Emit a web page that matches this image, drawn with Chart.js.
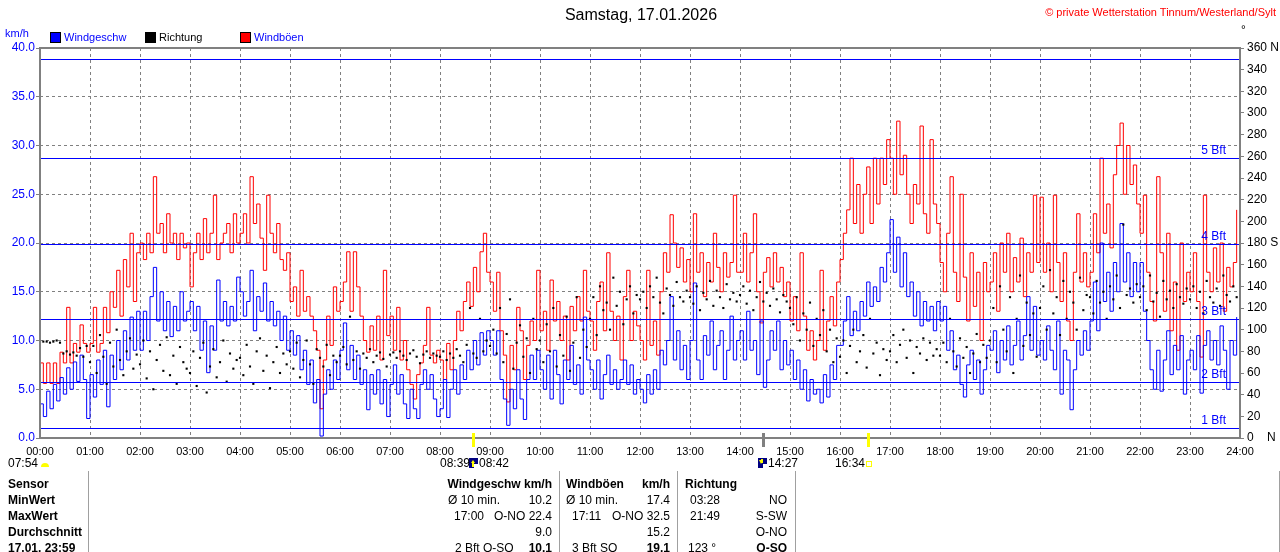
<!DOCTYPE html>
<html lang="de">
<head>
<meta charset="utf-8">
<title>Wind Samstag, 17.01.2026</title>
<script src="https://cdn.jsdelivr.net/npm/chart.js@4.4.1/dist/chart.umd.min.js"></script>
<style>
  html, body { margin: 0; padding: 0; background: #fff; }
  #wrap { position: relative; width: 1280px; height: 552px; overflow: hidden;
          font-family: "Liberation Sans", Arial, sans-serif; }
  #chart { position: absolute; left: 0; top: 0; }
  .t { position: absolute; white-space: nowrap; font-size: 12px; line-height: 14px; color: #000; }
  .s { font-size: 11px; }
  .b { font-weight: bold; }
  .blue { color: #0000ff; }
  .sq { position: absolute; width: 9px; height: 9px; border: 1px solid #000; }
</style>
</head>
<body>
<div id="wrap">
  <canvas id="chart" width="1280" height="552"></canvas>

  <div class="t" style="left:0;width:1282px;text-align:center;top:6px;font-size:16px;line-height:18px">Samstag, 17.01.2026</div>
  <div class="t" style="right:4px;top:5px;font-size:11px;color:#ff0000">© private Wetterstation Tinnum/Westerland/Sylt</div>
  <div class="t s blue" style="left:5px;top:26px">km/h</div>
  <div class="t" style="left:1241px;top:23px">°</div>

  <div class="sq" style="left:50px;top:32px;background:#0000ff"></div>
  <div class="t s blue" style="left:64px;top:30px">Windgeschw</div>
  <div class="sq" style="left:145px;top:32px;background:#000"></div>
  <div class="t s" style="left:159px;top:30px">Richtung</div>
  <div class="sq" style="left:240px;top:32px;background:#ff0000"></div>
  <div class="t s blue" style="left:254px;top:30px">Windböen</div>

  <div class="t" style="left:8px;top:456px">07:54</div>
  <div class="t" style="left:440px;top:456px">08:39</div>
  <div class="t" style="left:479px;top:456px">08:42</div>
  <div class="t" style="left:768px;top:456px">14:27</div>
  <div class="t" style="left:835px;top:456px">16:34</div>

  <!-- Tabelle -->
  <div class="t b" style="left:8px;top:477px">Sensor</div>
  <div class="t b" style="left:8px;top:493px">MinWert</div>
  <div class="t b" style="left:8px;top:509px">MaxWert</div>
  <div class="t b" style="left:8px;top:525px">Durchschnitt</div>
  <div class="t b" style="left:8px;top:541px">17.01. 23:59</div>

  <div class="t b" style="right:728px;top:477px">Windgeschw km/h</div>
  <div class="t" style="left:448px;top:493px">Ø 10 min.</div>
  <div class="t" style="right:728px;top:493px">10.2</div>
  <div class="t" style="left:454px;top:509px">17:00</div>
  <div class="t" style="right:728px;top:509px">O-NO 22.4</div>
  <div class="t" style="right:728px;top:525px">9.0</div>
  <div class="t" style="left:455px;top:541px">2 Bft O-SO</div>
  <div class="t b" style="right:728px;top:541px">10.1</div>

  <div class="t b" style="left:566px;top:477px">Windböen</div>
  <div class="t b" style="right:610px;top:477px">km/h</div>
  <div class="t" style="left:566px;top:493px">Ø 10 min.</div>
  <div class="t" style="right:610px;top:493px">17.4</div>
  <div class="t" style="left:572px;top:509px">17:11</div>
  <div class="t" style="right:610px;top:509px">O-NO 32.5</div>
  <div class="t" style="right:610px;top:525px">15.2</div>
  <div class="t" style="left:572px;top:541px">3 Bft SO</div>
  <div class="t b" style="right:610px;top:541px">19.1</div>

  <div class="t b" style="left:685px;top:477px">Richtung</div>
  <div class="t" style="left:690px;top:493px">03:28</div>
  <div class="t" style="right:493px;top:493px">NO</div>
  <div class="t" style="left:690px;top:509px">21:49</div>
  <div class="t" style="right:493px;top:509px">S-SW</div>
  <div class="t" style="right:493px;top:525px">O-NO</div>
  <div class="t" style="left:688px;top:541px">123 °</div>
  <div class="t b" style="right:493px;top:541px">O-SO</div>
</div>

<script>
// one value every 4 minutes, 15 per hour
const stepMinutes = 4;

const hourLabels = ['00:00', '01:00', '02:00', '03:00', '04:00', '05:00', '06:00', '07:00', '08:00',
    '09:00', '10:00', '11:00', '12:00', '13:00', '14:00', '15:00', '16:00', '17:00', '18:00',
    '19:00', '20:00', '21:00', '22:00', '23:00', '24:00'];

// Windgeschwindigkeit km/h
const windSpeed = [
    3.5, 2.2, 4.8, 3.0, 5.5, 3.8, 6.2, 4.5, 7.2, 5.0, 7.8, 5.8, 8.5, 6.0, 2.0,          // 00
    6.5, 4.2, 8.0, 5.5, 9.0, 3.2, 8.5, 6.0, 10.0, 7.0, 11.0, 8.0, 12.4, 9.0, 13.0,     // 01
    9.0, 13.0, 10.0, 14.5, 17.5, 12.0, 15.0, 11.0, 14.0, 10.4, 13.5, 11.0, 15.0, 12.0, 13.0, // 02
    14.0, 11.0, 13.5, 9.0, 12.0, 6.7, 11.5, 9.0, 16.2, 12.0, 14.0, 11.5, 13.5, 12.0, 16.5,  // 03
    15.0, 12.5, 14.0, 17.2, 11.0, 14.5, 13.0, 15.9, 12.0, 14.0, 11.5, 13.0, 10.0, 12.5, 9.0, // 04
    11.0, 8.5, 10.5, 7.0, 9.0, 5.5, 8.0, 3.6, 6.0, 0.2, 4.5, 7.0, 5.0, 8.0, 6.0,       // 05
    9.0, 11.8, 7.0, 9.5, 6.0, 8.5, 5.5, 7.0, 2.9, 6.5, 4.5, 7.0, 3.5, 6.0, 2.2,        // 06
    5.5, 7.5, 4.5, 6.5, 3.5, 2.0, 5.0, 3.0, 2.0, 5.5, 7.0, 5.0, 6.5, 4.0, 2.2,         // 07
    3.0, 6.0, 2.1, 5.0, 7.0, 4.5, 7.5, 6.0, 9.0, 7.0, 10.0, 7.5, 10.8, 8.5, 11.0,      // 08
    10.0, 8.5, 11.0, 6.0, 4.0, 1.3, 5.0, 3.0, 7.0, 4.0, 1.9, 6.0, 8.5, 6.0, 9.0,       // 09
    7.0, 5.0, 8.5, 4.0, 9.0, 6.5, 3.5, 8.0, 6.0, 9.5, 5.5, 7.5, 4.5, 12.4, 8.0,        // 10
    7.0, 5.0, 8.0, 4.0, 6.5, 8.5, 5.5, 7.0, 5.0, 6.0, 8.0, 5.5, 7.5, 4.5, 6.0,         // 11
    5.0, 3.6, 6.5, 4.5, 7.0, 5.0, 9.0, 7.5, 10.0, 14.5, 8.0, 11.0, 7.0, 9.5, 6.0,      // 12
    10.0, 15.9, 8.0, 6.0, 10.5, 8.5, 12.0, 7.0, 9.5, 11.0, 6.0, 9.0, 12.5, 8.0, 10.0,  // 13
    11.0, 8.0, 13.0, 9.0, 10.0, 6.5, 12.0, 5.2, 8.0, 11.0, 9.0, 12.0, 7.0, 10.0, 7.5,  // 14
    9.0, 6.0, 8.0, 5.0, 7.0, 3.8, 6.0, 4.5, 5.0, 3.6, 6.5, 4.2, 7.5, 6.0, 9.5,         // 15
    9.5, 12.0, 14.5, 10.5, 13.0, 11.0, 14.0, 12.5, 16.0, 13.5, 15.5, 14.0, 17.5, 16.0, 19.0, // 16
    22.4, 17.0, 20.6, 15.5, 19.0, 14.5, 16.0, 12.5, 15.0, 11.5, 14.0, 12.0, 13.5, 11.0, 14.0, // 17
    12.0, 13.5, 9.0, 11.0, 7.0, 8.5, 5.5, 4.2, 7.5, 9.0, 6.0, 8.0, 4.5, 7.0, 9.5,      // 18
    9.0, 11.0, 6.7, 10.0, 8.0, 11.5, 7.5, 9.5, 12.0, 8.0, 10.5, 14.5, 9.0, 13.5, 8.5,  // 19
    10.0, 8.0, 11.5, 9.0, 7.0, 12.0, 4.5, 9.0, 8.0, 2.9, 7.0, 10.0, 8.5, 11.0, 9.0,    // 20
    12.0, 16.0, 11.0, 20.0, 14.0, 17.0, 13.0, 18.0, 15.0, 22.0, 16.0, 19.0, 14.5, 18.0, 15.0, // 21
    18.0, 13.0, 10.0, 7.0, 5.0, 9.0, 4.8, 8.0, 11.0, 6.5, 9.5, 7.0, 10.5, 4.5, 8.0,    // 22
    9.0, 7.0, 10.5, 4.6, 9.5, 11.0, 8.0, 10.0, 7.5, 11.5, 9.0, 5.0, 10.0, 8.5, 12.4    // 23
];

// Windböen km/h
const windGust = [
    7.7, 5.6, 7.7, 5.6, 7.7, 5.6, 8.8, 7.7, 13.4, 7.7, 9.7, 8.8, 11.6, 9.7, 8.8,       // 00
    9.7, 13.4, 8.8, 9.7, 13.4, 10.8, 15.0, 13.4, 17.2, 12.5, 18.3, 15.5, 21.0, 14.0, 19.0, // 01
    20.0, 18.3, 21.0, 19.0, 26.8, 21.0, 22.0, 19.0, 23.0, 20.0, 21.0, 18.3, 21.0, 19.5, 20.0, // 02
    15.5, 19.0, 21.0, 18.3, 22.5, 19.0, 21.0, 24.9, 18.3, 20.0, 21.0, 22.0, 19.0, 23.0, 20.0, // 03
    21.0, 23.0, 20.0, 26.8, 22.0, 24.0, 20.5, 17.2, 24.9, 21.0, 19.0, 22.0, 18.3, 17.2, 19.0, // 04
    14.0, 15.5, 12.5, 17.2, 13.0, 14.5, 12.5, 11.0, 9.0, 3.0, 8.0, 12.5, 9.5, 15.5, 13.0,   // 05
    14.0, 16.0, 19.1, 13.0, 19.1, 15.5, 12.5, 10.0, 8.8, 11.5, 9.0, 12.5, 8.0, 17.2, 10.5,  // 06
    12.5, 9.0, 13.4, 8.0, 10.0, 7.0, 5.5, 4.0, 6.5, 7.7, 9.5, 13.4, 8.5, 7.7, 9.0,          // 07
    8.0, 6.0, 9.7, 7.0, 10.0, 13.0, 11.0, 14.0, 16.0, 13.5, 17.5, 15.0, 19.1, 21.0, 17.0,   // 08
    16.0, 13.0, 17.0, 11.0, 8.5, 3.7, 9.5, 7.0, 13.4, 11.0, 6.0, 9.5, 12.0, 10.0, 17.2,     // 09
    11.0, 13.0, 9.0, 16.2, 12.0, 14.0, 10.0, 12.5, 8.0, 13.5, 11.0, 14.5, 12.0, 17.2, 13.0, // 10
    12.0, 9.0, 14.0, 16.0, 11.0, 19.0, 13.0, 10.0, 12.5, 8.0, 14.5, 17.2, 10.0, 13.0, 11.5, // 11
    10.0, 8.0, 17.2, 9.5, 12.0, 8.5, 15.0, 19.0, 17.0, 22.9, 20.0, 17.5, 19.5, 16.0, 18.3,  // 12
    15.0, 23.0, 17.0, 19.0, 14.5, 18.0, 16.0, 21.0, 17.5, 15.0, 19.0, 16.5, 18.0, 24.9, 17.0, // 13
    17.0, 21.0, 16.0, 19.0, 23.0, 15.0, 11.8, 17.0, 18.5, 15.5, 19.0, 16.0, 17.5, 14.5, 16.0, // 14
    12.0, 14.5, 11.0, 19.0, 12.5, 9.0, 11.0, 8.0, 10.0, 17.2, 9.0, 12.0, 14.5, 11.5, 16.0,  // 15
    18.3, 21.0, 23.4, 28.7, 22.0, 26.0, 21.0, 25.0, 27.8, 22.0, 28.7, 24.0, 28.7, 26.0, 30.6, // 16
    28.7, 25.0, 32.5, 27.0, 29.0, 25.0, 22.0, 26.0, 24.0, 32.0, 23.0, 21.0, 30.6, 24.0, 22.0, // 17
    18.0, 15.0, 21.0, 26.8, 17.0, 14.0, 25.0, 16.5, 12.0, 19.0, 13.5, 17.0, 10.0, 18.0, 15.0, // 18
    16.0, 19.0, 13.0, 20.0, 17.0, 21.0, 15.0, 18.5, 16.0, 20.5, 14.5, 19.0, 17.0, 24.9, 18.0, // 19
    24.7, 17.0, 20.0, 15.0, 24.9, 18.0, 14.0, 19.0, 12.0, 10.0, 17.0, 23.0, 16.0, 19.0, 15.5, // 20
    17.0, 23.0, 19.0, 28.7, 21.0, 24.0, 19.5, 27.0, 30.0, 32.3, 25.0, 30.0, 26.0, 28.0, 24.0, // 21
    21.0, 24.9, 17.0, 14.0, 12.0, 26.8, 19.0, 13.0, 21.0, 11.0, 16.0, 9.0, 20.0, 14.0, 17.0, // 22
    15.0, 19.0, 14.0, 8.3, 24.9, 17.0, 15.0, 19.5, 16.0, 20.0, 13.0, 17.5, 15.5, 18.0, 23.4  // 23
];

// Windrichtung Grad
const windDir = [
    89, 89, 89, 88, 89, 90, 88, 78, 80, 77, 79, 76, 83, 75, 85,           // 00
    70, 85, 60, 95, 75, 50, 88, 66, 100, 72, 58, 80, 92, 64, 77,          // 01
    68, 90, 55, 80, 45, 72, 86, 62, 93, 58, 76, 50, 84, 70, 64,           // 02
    60, 80, 48, 74, 88, 42, 66, 82, 56, 70, 90, 52, 78, 64, 72,           // 03
    74, 58, 86, 66, 50, 80, 92, 62, 76, 46, 70, 84, 60, 78, 68,           // 04
    80, 64, 88, 56, 72, 90, 68, 50, 82, 74, 66, 86, 58, 76, 70,           // 05
    76, 84, 68, 112, 72, 80, 64, 78, 74, 82, 70, 76, 79, 73, 66,          // 06
    77, 79, 74, 80, 76, 72, 78, 81, 75, 69, 77, 80, 74, 78, 76,           // 07
    75, 80, 72, 78, 74, 82, 76, 70, 86, 120, 78, 74, 110, 80, 90,         // 08
    85, 100, 78, 120, 70, 96, 128, 64, 88, 104, 75, 92, 60, 110, 82,      // 09
    90, 70, 105, 80, 120, 66, 95, 76, 112, 62, 88, 130, 74, 100, 84,      // 10
    110, 130, 95, 140, 118, 125, 100, 148, 122, 135, 105, 128, 140, 115, 132, // 11
    128, 135, 120, 140, 130, 148, 125, 115, 138, 132, 122, 144, 130, 126, 136, // 12
    130, 124, 140, 118, 134, 128, 145, 122, 136, 130, 120, 142, 128, 134, 126, // 13
    132, 140, 124, 136, 118, 130, 144, 126, 134, 122, 138, 128, 116, 132, 126, // 14
    120, 105, 130, 90, 115, 100, 125, 85, 110, 95, 118, 80, 100, 70, 92,  // 15
    75, 90, 60, 85, 100, 70, 80, 95, 65, 110, 78, 88, 58, 82, 72,         // 16
    80, 95, 70, 86, 100, 74, 90, 60, 84, 78, 92, 72, 88, 76, 82,          // 17
    76, 88, 70, 110, 80, 66, 92, 74, 84, 60, 78, 96, 70, 86, 74,          // 18
    90, 120, 70, 140, 100, 80, 130, 60, 110, 150, 85, 125, 95, 115, 75,   // 19
    120, 140, 100, 155, 115, 130, 95, 145, 110, 135, 125, 100, 148, 118, 132, // 20
    130, 115, 145, 125, 135, 110, 140, 128, 150, 120, 197, 132, 138, 125, 142, // 21
    130, 140, 118, 150, 126, 134, 112, 145, 128, 136, 120, 142, 130, 124, 138, // 22
    128, 140, 120, 135, 115, 145, 130, 125, 138, 122, 150, 132, 126, 140, 130  // 23
];

// Beaufort-Grenzen km/h
const bftLevels = [1.0, 5.7, 12.2, 19.9, 28.7, 38.9];
const bftNames = ['1 Bft', '2 Bft', '3 Bft', '4 Bft', '5 Bft', ''];

// Sonne / Mond Markierungen (Minuten)
const sunMarks = [519, 867, 994];
const sunColors = ['#ffff00', '#808080', '#ffff00'];

const FONT = '"Liberation Sans", Arial, sans-serif';

function toPoints(values) {
    return values.map((v, i) => ({ x: i * stepMinutes, y: v }));
}

const decorPlugin = {
    id: 'decor',
    afterDatasetsDraw(chart) {
        const { ctx, chartArea: a, scales: { y } } = chart;
        ctx.save();
        ctx.strokeStyle = '#0000ff';
        ctx.fillStyle = '#0000ff';
        ctx.lineWidth = 1;
        ctx.font = '12px ' + FONT;
        ctx.textAlign = 'right';
        ctx.textBaseline = 'middle';
        bftLevels.forEach((v, i) => {
            const py = Math.round(y.getPixelForValue(v)) + 0.5;
            ctx.beginPath();
            ctx.moveTo(a.left, py);
            ctx.lineTo(a.right, py);
            ctx.stroke();
            if (bftNames[i]) ctx.fillText(bftNames[i], a.right - 14, py - 8);
        });
        ctx.restore();
    },
    afterDraw(chart) {
        const { ctx, chartArea: a, scales: { x } } = chart;
        ctx.save();
        // frame
        ctx.strokeStyle = '#808080';
        ctx.lineWidth = 2;
        ctx.strokeRect(a.left, a.top, a.right - a.left, a.bottom - a.top);

        // markers on the time axis
        sunMarks.forEach((t, i) => {
            const px = Math.round(x.getPixelForValue(t));
            ctx.fillStyle = sunColors[i];
            ctx.fillRect(px - 1, a.bottom - 5, 3, 14);
        });

        // small icons
        ctx.fillStyle = '#ffff00';
        ctx.beginPath();
        ctx.arc(45, 467, 4, Math.PI, 0);
        ctx.fill();
        [[469, 458], [758, 458]].forEach(([ix, iy], k) => {
            ctx.fillStyle = '#000080';
            ctx.fillRect(ix, iy, 9, 10);
            ctx.fillStyle = '#ffffff';
            ctx.fillRect(ix + 5, iy + 6, 4, 4);
            ctx.fillStyle = '#ffff00';
            ctx.beginPath();
            if (k === 0) {
                ctx.moveTo(ix + 2, iy + 5); ctx.lineTo(ix + 4, iy + 2); ctx.lineTo(ix + 6, iy + 5);
            } else {
                ctx.moveTo(ix + 1, iy + 2); ctx.lineTo(ix + 3, iy + 6); ctx.lineTo(ix + 5, iy + 2);
            }
            ctx.fill();
            ctx.fillRect(ix + 3, iy + (k === 0 ? 5 : 1), 2, 4);
        });
        ctx.strokeStyle = '#ffff00';
        ctx.lineWidth = 1;
        ctx.strokeRect(866.5, 461.5, 5, 5);

        // table separators
        ctx.strokeStyle = '#a0a0a0';
        ctx.lineWidth = 1;
        [88, 559, 677, 795, 1279].forEach(lx => {
            ctx.beginPath();
            ctx.moveTo(lx + 0.5, 471);
            ctx.lineTo(lx + 0.5, 552);
            ctx.stroke();
        });
        ctx.restore();
    }
};

document.addEventListener('DOMContentLoaded', function() {
    const ctx = document.getElementById('chart');

    new Chart(ctx, {
        type: 'line',
        data: {
            datasets: [{
                label: 'Richtung',
                data: toPoints(windDir),
                yAxisID: 'y2',
                showLine: false,
                pointStyle: 'rect',
                pointRadius: 1.5,
                pointBorderWidth: 0,
                pointBackgroundColor: '#000000',
                borderColor: '#000000'
            }, {
                label: 'Windgeschw',
                data: toPoints(windSpeed),
                yAxisID: 'y',
                borderColor: '#0000ff',
                borderWidth: 1,
                pointRadius: 0,
                stepped: true
            }, {
                label: 'Windböen',
                data: toPoints(windGust),
                yAxisID: 'y',
                borderColor: '#ff0000',
                borderWidth: 1,
                pointRadius: 0,
                stepped: true
            }]
        },
        options: {
            responsive: false,
            animation: false,
            devicePixelRatio: 1,
            layout: { padding: { top: 48, left: 0, right: 0, bottom: 0 } },
            plugins: {
                legend: { display: false },
                tooltip: { enabled: false }
            },
            scales: {
                x: {
                    type: 'linear',
                    min: 0,
                    max: 1440,
                    afterFit(scale) { scale.height = 114; },
                    afterBuildTicks(scale) {
                        scale.ticks = hourLabels.map((l, i) => ({ value: i * 60 }));
                    },
                    ticks: {
                        autoSkip: false,
                        maxRotation: 0,
                        color: '#000000',
                        padding: 7,
                        font: { family: FONT, size: 11 },
                        callback: (value, index) => hourLabels[index]
                    },
                    grid: { color: '#808080', drawTicks: false },
                    border: { display: false, dash: [3, 3] }
                },
                y: {
                    position: 'left',
                    min: 0,
                    max: 40,
                    afterFit(scale) { scale.width = 40; },
                    ticks: {
                        stepSize: 5,
                        color: '#0000ff',
                        padding: 1,
                        font: { family: FONT, size: 12 },
                        callback: v => v.toFixed(1)
                    },
                    grid: { color: '#808080', tickLength: 4, tickColor: '#808080' },
                    border: { display: false, dash: [3, 3] }
                },
                y2: {
                    position: 'right',
                    min: 0,
                    max: 360,
                    afterFit(scale) { scale.width = 40; },
                    ticks: {
                        stepSize: 20,
                        color: '#000000',
                        padding: 3,
                        font: { family: FONT, size: 12 },
                        callback: v => v === 360 ? '360 N' : v === 180 ? '180 S' : v === 0 ? '0    N' : String(v)
                    },
                    grid: { drawOnChartArea: false, tickLength: 4, tickColor: '#808080' },
                    border: { display: false }
                }
            }
        },
        plugins: [decorPlugin]
    });
});
</script>
</body>
</html>
